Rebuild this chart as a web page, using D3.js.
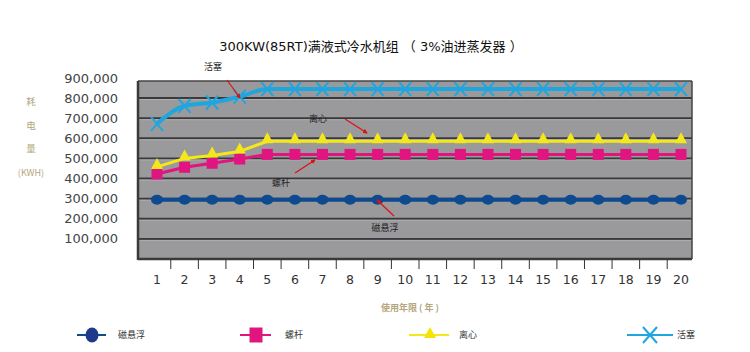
<!DOCTYPE html>
<html><head><meta charset="utf-8">
<script src="https://cdn.jsdelivr.net/npm/d3@7/dist/d3.min.js"></script>
<style>body{margin:0;background:#fff}svg{display:block}</style>
</head><body>
<svg id="c" width="750" height="352"></svg>
<script>
const title = "300KW(85RT)满液式冷水机组 （ 3%油进蒸发器 ）";
const years = [1,2,3,4,5,6,7,8,9,10,11,12,13,14,15,16,17,18,19,20];
const maglev = [295000,295000,295000,295000,295000,295000,295000,295000,295000,295000,295000,295000,295000,295000,295000,295000,295000,295000,295000,295000];
const screw = [423000,456000,476000,497000,520000,520000,520000,520000,520000,520000,520000,520000,520000,520000,520000,520000,520000,520000,520000,520000];
const centrifugal = [458000,500000,515000,535000,585000,585000,585000,585000,585000,585000,585000,585000,585000,585000,585000,585000,585000,585000,585000,585000];
const piston = [672000,761000,778000,807000,845000,845000,845000,845000,845000,845000,845000,845000,845000,845000,845000,845000,845000,845000,845000,845000];
const yTicks = [100000,200000,300000,400000,500000,600000,700000,800000,900000];
const seriesNames = ["磁悬浮","螺杆","离心","活塞"];
const yAxisLabel = ["耗","电","量","(KWH)"];
const xAxisLabel = "使用年限 ( 年 )";

const svg = d3.select("#c");
const L = 138, R = 692, T = 81, B = 259;
const x = d3.scalePoint().domain(years).range([157, 681]);
const y = d3.scaleLinear().domain([0, 885000]).range([B, T]);

// title
svg.append("text").attr("x", 371).attr("y", 51).attr("text-anchor","middle")
  .attr("font-family","'DejaVu Sans','Noto Sans CJK SC',sans-serif").attr("font-size",13).attr("fill","#111").text(title);

// plot background
svg.append("rect").attr("x",L).attr("y",T).attr("width",R-L).attr("height",B-T).attr("fill","#9a9a9c");

// gridlines
svg.append("g").selectAll("line").data(yTicks.filter(v=>y(v)>T+2)).join("line")
  .attr("x1",L).attr("x2",R).attr("y1",d=>y(d)).attr("y2",d=>y(d))
  .attr("stroke","#3a3a3c").attr("stroke-width",2);
svg.append("g").selectAll("line").data(yTicks.filter(v=>y(v)>T+2)).join("line")
  .attr("x1",L).attr("x2",R).attr("y1",d=>y(d)+1.5).attr("y2",d=>y(d)+1.5)
  .attr("stroke","#b0b0b2").attr("stroke-width",1);

// frame
svg.append("line").attr("x1",L).attr("x2",R).attr("y1",T).attr("y2",T).attr("stroke","#444").attr("stroke-width",1.5);
svg.append("line").attr("x1",R).attr("x2",R).attr("y1",T).attr("y2",B).attr("stroke","#444").attr("stroke-width",1.5);
svg.append("line").attr("x1",L).attr("x2",L).attr("y1",T).attr("y2",B+1).attr("stroke","#3a3a3a").attr("stroke-width",2.5);
svg.append("line").attr("x1",L).attr("x2",R).attr("y1",B).attr("y2",B).attr("stroke","#3a3a3a").attr("stroke-width",2.5);

// y tick labels
svg.append("g").selectAll("text").data(yTicks).join("text")
  .attr("x",118).attr("y",d=>y(d)).attr("dy","0.35em").attr("text-anchor","end")
  .attr("font-family","'DejaVu Sans',sans-serif").attr("font-size",13).attr("fill","#444")
  .text(d=>d3.format(",")(d));

// x ticks between categories
const mids = years.slice(0,-1).map((d,i)=> (x(d)+x(years[i+1]))/2);
svg.append("g").selectAll("line").data(mids).join("line")
  .attr("x1",d=>d).attr("x2",d=>d).attr("y1",B+1).attr("y2",B+10)
  .attr("stroke","#333").attr("stroke-width",1);
svg.append("g").selectAll("text").data(years).join("text")
  .attr("x",d=>x(d)).attr("y",284).attr("text-anchor","middle")
  .attr("font-family","'DejaVu Sans',sans-serif").attr("font-size",12.5).attr("fill","#333")
  .text(d=>d);

// axis titles
svg.append("g").selectAll("text").data(yAxisLabel).join("text")
  .attr("x",31).attr("y",(d,i)=>105+i*23.5).attr("text-anchor","middle")
  .attr("font-family","'Noto Sans CJK SC',sans-serif").attr("font-size",(d,i)=>i===3?9:9.5).attr("fill","#b4a67e")
  .text(d=>d);
svg.append("text").attr("x",410).attr("y",311).attr("text-anchor","middle")
  .attr("font-family","'Noto Sans CJK SC',sans-serif").attr("font-size",9).attr("font-weight","bold").attr("fill","#b4a67e")
  .text(xAxisLabel);

// series
const colors = ["#0d4a8f","#e0157f","#f5e81a","#1ea6df"];
const line = d3.line().x((d,i)=>x(years[i])).y(d=>y(d));
const smooth = d3.line().x((d,i)=>x(years[i])).y(d=>y(d)).curve(d3.curveMonotoneX);

function marker(g, type, cx, cy, color){
  if(type===0) g.append("ellipse").attr("cx",cx).attr("cy",cy).attr("rx",6).attr("ry",5).attr("fill",color);
  else if(type===1) g.append("rect").attr("x",cx-5.5).attr("y",cy-5.5).attr("width",11).attr("height",11).attr("fill",color);
  else if(type===2) g.append("path").attr("d",`M${cx-6},${cy+2}L${cx+6},${cy+2}L${cx},${cy-9}Z`).attr("fill",color);
  else g.append("path").attr("d",`M${cx-6},${cy-7}L${cx+6},${cy+7}M${cx+6},${cy-7}L${cx-6},${cy+7}`).attr("stroke",color).attr("stroke-width",2).attr("fill","none");
}

const all = [maglev, screw, centrifugal, piston];
const widths = [4,3,3,4];
all.forEach((vals,k)=>{
  const g = svg.append("g");
  g.append("path").datum(vals).attr("d", k===3 ? smooth : line).attr("fill","none")
    .attr("stroke",colors[k]).attr("stroke-width",widths[k]);
  vals.forEach((v,i)=>marker(g,k,x(years[i]),y(v),colors[k]));
});

// annotations
const ann = [
  {t:"活塞", tx:213, ty:70, x1:227, y1:80, x2:240, y2:98},
  {t:"离心", tx:318, ty:122, x1:345, y1:119, x2:367, y2:133},
  {t:"螺杆", tx:281, ty:186, x1:295, y1:173, x2:315, y2:160},
  {t:"磁悬浮", tx:385, ty:231, x1:394, y1:216, x2:377, y2:200}
];
svg.append("defs").append("marker").attr("id","ah").attr("viewBox","0 0 6 6").attr("refX",5).attr("refY",3)
  .attr("markerWidth",4).attr("markerHeight",4).attr("orient","auto")
  .append("path").attr("d","M0,0L6,3L0,6Z").attr("fill","#e01010");
ann.forEach(a=>{
  svg.append("line").attr("x1",a.x1).attr("y1",a.y1).attr("x2",a.x2).attr("y2",a.y2)
    .attr("stroke","#e01010").attr("stroke-width",1.2).attr("marker-end","url(#ah)");
  svg.append("text").attr("x",a.tx).attr("y",a.ty).attr("text-anchor","middle")
    .attr("font-family","'Noto Sans CJK SC',sans-serif").attr("font-size",9).attr("fill","#222").text(a.t);
});

// legend
const leg = [
  {x1:77,x2:106,mx:92,tx:118},
  {x1:240,x2:271,mx:256,tx:285},
  {x1:409,x2:449,mx:430,tx:459},
  {x1:627,x2:673,mx:650,tx:677}
];
const ly = 335;
leg.forEach((l,k)=>{
  const g = svg.append("g");
  g.append("line").attr("x1",l.x1).attr("x2",l.x2).attr("y1",ly).attr("y2",ly).attr("stroke",colors[k]).attr("stroke-width",2);
  if(k===0) g.append("ellipse").attr("cx",l.mx).attr("cy",ly).attr("rx",6.5).attr("ry",7.5).attr("fill","#1f3a8a");
  else if(k===1) g.append("rect").attr("x",l.mx-6.5).attr("y",ly-7.5).attr("width",13).attr("height",15).attr("fill",colors[1]);
  else if(k===2) g.append("path").attr("d",`M${l.mx-6},${ly+3}L${l.mx+6},${ly+3}L${l.mx},${ly-8}Z`).attr("fill","#f5e400");
  else g.append("path").attr("d",`M${l.mx-7},${ly-8}L${l.mx+7},${ly+8}M${l.mx+7},${ly-8}L${l.mx-7},${ly+8}`).attr("stroke",colors[3]).attr("stroke-width",2).attr("fill","none");
  g.append("text").attr("x",l.tx).attr("y",ly+3).attr("font-family","'Noto Sans CJK SC',sans-serif")
    .attr("font-size",9).attr("fill","#333").text(seriesNames[k]);
});
</script>
</body></html>
